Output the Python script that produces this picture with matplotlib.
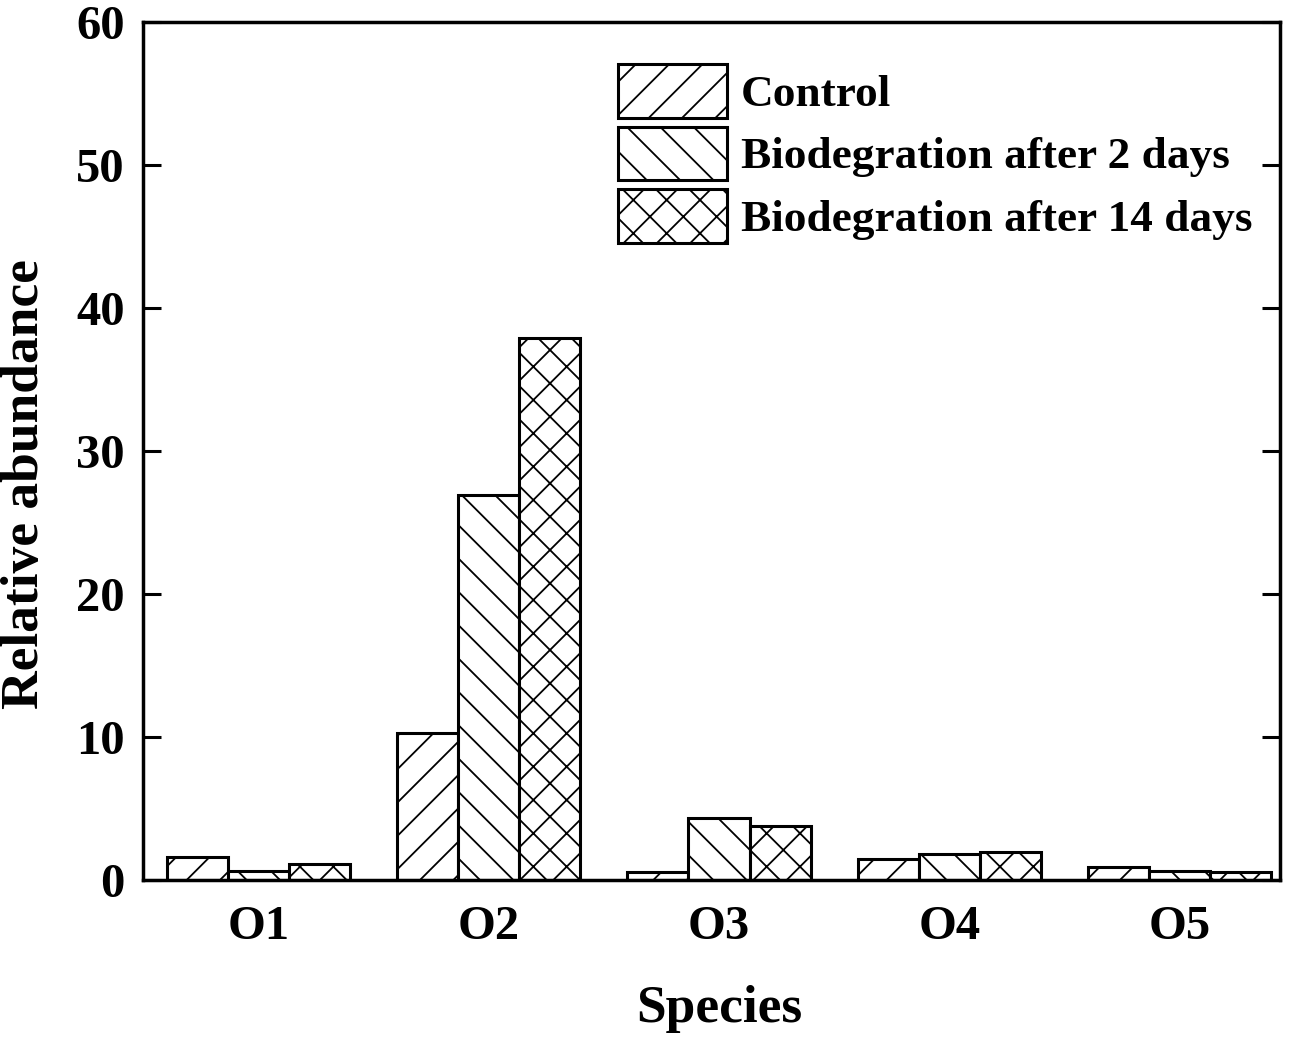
import numpy as np
import matplotlib.pyplot as plt

species = ['O1', 'O2', 'O3', 'O4', 'O5']
control = [1.6, 10.3, 0.55, 1.5, 0.9]
bio_2d = [0.6, 26.9, 4.3, 1.85, 0.6]
bio_14d = [1.1, 37.9, 3.8, 1.95, 0.58]
labels = ['Control', 'Biodegration after 2 days', 'Biodegration after 14 days']
hatches = ['/', '\\', 'x']

plt.rcParams['font.family'] = 'Liberation Serif'
plt.rcParams['font.weight'] = 'bold'
plt.rcParams['hatch.linewidth'] = 1.3

fig = plt.figure(figsize=(13, 10.43), dpi=100)
ax = fig.add_axes([0.11, 0.1563, 0.8746, 0.8227])

ind, width = np.arange(len(species)), 0.265
for k, (vals, lab, h) in enumerate(zip([control, bio_2d, bio_14d], labels, hatches)):
    ax.bar(ind + (k - 1) * width, vals, width, color='white', edgecolor='black',
           linewidth=2.2, hatch=h, label=lab)

ax.set_xlim(-0.5, 4.435)
ax.set_ylim(0, 60)
ax.set_yticks(range(0, 61, 10))
ax.set_xticks(ind)
ax.set_xticklabels(species)
ax.tick_params(axis='y', direction='in', length=13, width=2.2, labelsize=35,
               pad=13, right=True)
ax.tick_params(axis='x', length=0, labelsize=35, pad=18)
for s in ax.spines.values():
    s.set_linewidth(2.5)

ax.set_xlabel('Species', fontsize=38.5, fontweight='bold', labelpad=26)
ax.set_ylabel('Relative abundance', fontsize=38.5, fontweight='bold', labelpad=20)
ax.xaxis.label.set_x(0.5066)
ax.yaxis.label.set_y(0.461)

ax.legend(loc='upper left', bbox_to_anchor=(0.4178, 0.951), frameon=False,
          fontsize=32.6, handlelength=2.41, handleheight=1.445, labelspacing=0.2,
          handletextpad=0.3, borderaxespad=0, borderpad=0)

fig.savefig('out.png', dpi=100)
